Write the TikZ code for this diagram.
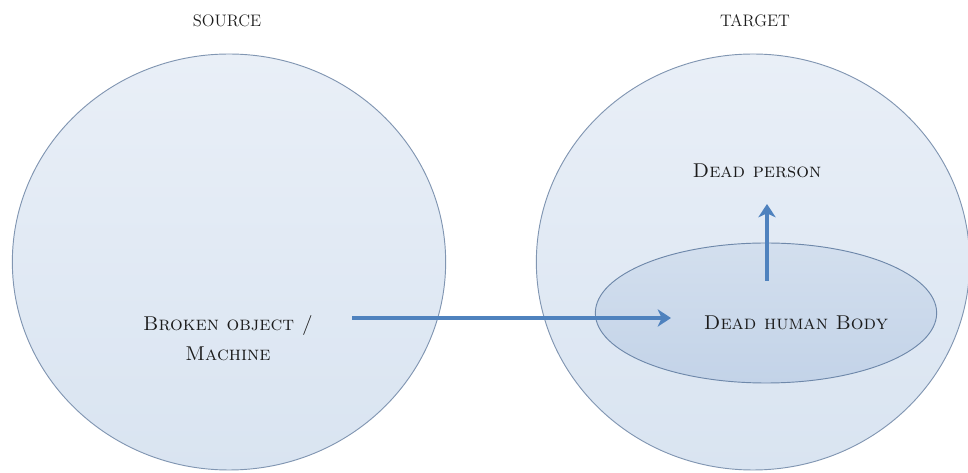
\documentclass[tikz,border=0pt]{standalone}
\usetikzlibrary{arrows.meta,shapes.geometric}
\definecolor{circtop}{HTML}{E9EFF7}
\definecolor{circbot}{HTML}{D9E4F1}
\definecolor{circline}{HTML}{8196B2}
\definecolor{elltop}{HTML}{D3DFEE}
\definecolor{ellbot}{HTML}{C3D3E8}
\definecolor{ellline}{HTML}{6E88AA}
\definecolor{arrblue}{HTML}{4F82BE}
\definecolor{txt}{HTML}{1C1C1C}
\tikzset{
  bigcircle/.style={ellipse, draw=circline, line width=0.7pt, top color=circtop, bottom color=circbot,
    minimum width=325pt, minimum height=312pt, inner sep=0pt, outer sep=0pt},
  subellipse/.style={ellipse, draw=ellline, line width=0.7pt, top color=elltop, bottom color=ellbot,
    minimum width=256pt, minimum height=105pt, inner sep=0pt, outer sep=0pt},
  lbltext/.style={text=txt, inner sep=0pt, font=\fontsize{15}{23}\selectfont, align=center},
  headtext/.style={text=txt, inner sep=0pt, font=\fontsize{12.5}{15}\selectfont},
  bluearrow/.style={draw=arrblue, line width=3pt, -{Stealth[length=10pt,width=13pt,inset=3pt]}}
}
\begin{document}
\begin{tikzpicture}[x=0.75pt,y=-0.75pt]
\useasboundingbox (0,0) rectangle (968,473);
\node[bigcircle] (src) at (229,262) {};
\node[bigcircle] (tgt) at (753,262) {};
\node[subellipse] (body) at (766,313) {};
\node[headtext, anchor=base] (srcl) at (227,27) {SOURCE};
\node[headtext, anchor=base] (tgtl) at (755,27) {TARGET};
\node[lbltext] (broken) at (228,338) {\textsc{Broken object /}\\\textsc{Machine}};
\node[lbltext, anchor=base] (dhb) at (796,330) {\textsc{Dead human Body}};
\node[lbltext, anchor=base] (dp) at (757,178) {\textsc{Dead person}};
\coordinate (a1) at (352,318);
\coordinate (a2) at (671,318);
\coordinate (b1) at (767,281);
\coordinate (b2) at (767,204);
\draw[bluearrow] (a1) -- (a2);
\draw[bluearrow] (b1) -- (b2);
\end{tikzpicture}
\end{document}
